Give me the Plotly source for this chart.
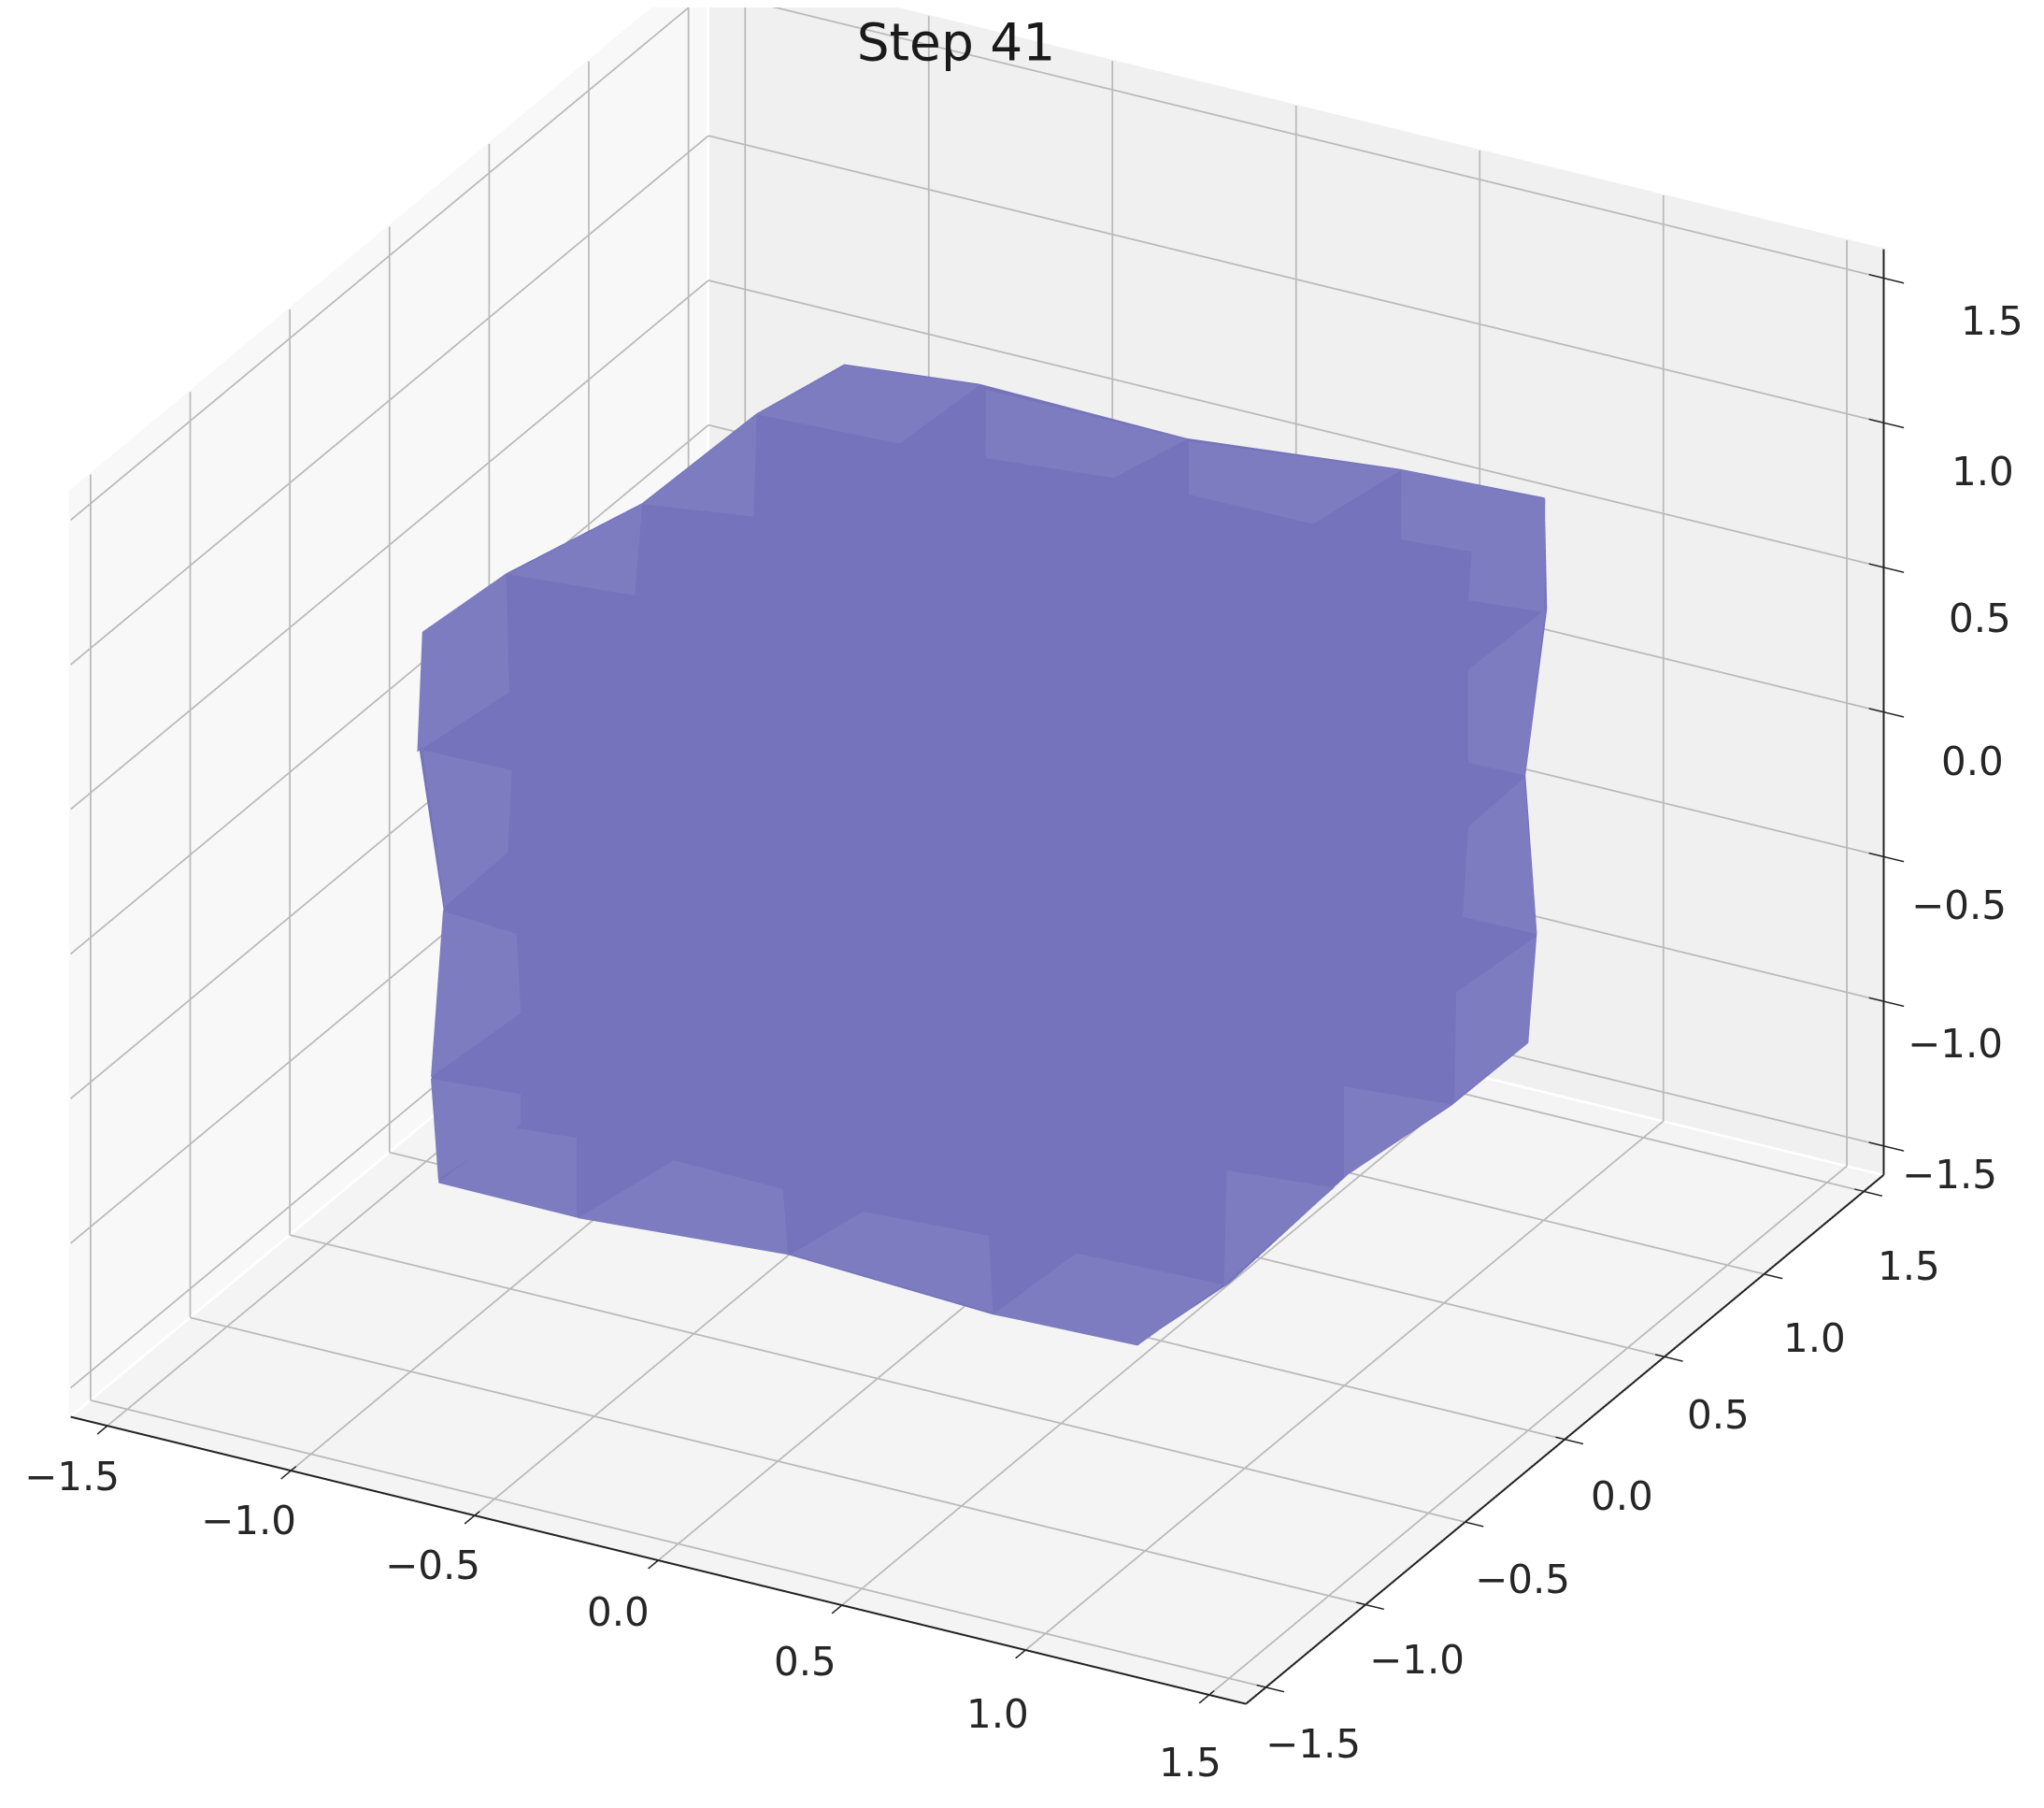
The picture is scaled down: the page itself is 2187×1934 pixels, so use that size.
import plotly.graph_objects as go

title_text = "Step 41"
edge = 1.6
tick_vals = [-1.5, -1.0, -0.5, 0.0, 0.5, 1.0, 1.5]
tick_text = ["\u22121.5", "\u22121.0", "\u22120.5", "0.0", "0.5", "1.0", "1.5"]

# outline nodes of the deformed cube
ring_x = [-.92,-.92,-.92,-.92,-.92,-.494,.071,.653,1.046,.92,.92,.92,.92,.92,.92,.92,.92,.544,-.015,-.587,-.967,-.987,-.954,-1.02]
ring_y = [-1.089,-.667,.014,.587,1.028,.92,.92,.92,.92,1.164,1.056,1.113,1.07,.685,.164,-.427,-.887,-.92,-.92,-.92,-.92,-.92,-.92,-.92]
ring_z = [1.032,.994,.847,.829,.748,.874,.861,.935,.958,.394,-.119,-.697,-1.052,-1.048,-.99,-1.026,-.974,-.971,-.937,-.987,-.984,-.632,-.032,.5]
near_corner = (1.0, -1.0, 1.0)
far_corner = (-1.0, 1.0, -1.0)

# lighter cells on the top face (z = 1.05): (x, y)
top_cells = [
    [(-.907,-1.113),(-.879,-.743),(-.571,-1.295),(-.613,-1.68)],
    [(-.873,-.745),(-.768,-.265),(-.552,-.701)],
    [(-.768,-.265),(-.755,.285),(-.502,-.196)],
    [(-.755,.285),(-.694,.615),(-.361,.677),(-.38,.312)],
    [(-.336,.663),(.213,.659),(.157,.396),(-.163,.342)],
    [(.222,.653),(.742,.761),(.693,.408),(.357,.403)],
    [(1.118,.79),(1.404,.259),(1.213,.229),(1.097,.459),(.917,.436),(.742,.761)],
]
# lighter cells on the right face (x = .95): (y, z)
right_cells = [
    [(1.099,.439),(1.0,-.077),(.714,.129),(.714,.452)],
    [(.995,-.084),(1.056,-.658),(.685,-.387),(.714,-.09)],
    [(1.052,-.665),(1.014,-1.01),(.643,-1.0),(.653,-.629)],
    [(.089,-.632),(.629,-1.003),(.089,-.945)],
    [(-.498,-.587),(.042,-.955),(-.512,-.974)],
]
# lighter cells on the front face (y = -.95): (x, z)
front_cells = [
    [(.559,-.948),(.785,-.666),(1.185,-.65),(.952,-.934)],
    [(.547,-.679),(.205,-.702),(.008,-.911),(.559,-.942)],
    [(-.013,-.692),(-.311,-.685),(-.572,-.966),(0,-.915)],
    [(-.575,-.689),(-.752,-.708),(-.952,-.96),(-.575,-.963)],
    [(-.727,-.585),(-.972,-.608),(-.952,-.95),(-.727,-.689)],
    [(-.739,-.034),(-.939,-.018),(-.972,-.602),(-.727,-.305)],
    [(-.995,.521),(-.752,.527),(-.762,.24),(-.934,-.002)],
]
face_top, face_right, face_front = 1.05, .95, -.95

BODY = "rgb(116,115,188)"
CELL = "rgb(125,124,192)"
GRID = "#bababa"
INK = "#222222"
FONT = "DejaVu Sans"
FLAT = dict(ambient=1, diffuse=0, specular=0, roughness=1, fresnel=0)

fig = go.Figure()

def flat_mesh(x, y, z, i, j, k, color):
    fig.add_trace(go.Mesh3d(x=x, y=y, z=z, i=i, j=j, k=k, color=color, opacity=1,
                            flatshading=True, lighting=FLAT, hoverinfo="skip"))

def segments(segs, color, width):
    x, y, z = [], [], []
    for a, b in segs:
        x += [a[0], b[0], None]; y += [a[1], b[1], None]; z += [a[2], b[2], None]
    fig.add_trace(go.Scatter3d(x=x, y=y, z=z, mode="lines", line=dict(color=color, width=width),
                               hoverinfo="skip", showlegend=False))

# panes
e = edge; p = edge + .005
flat_mesh([-p, -p, -p, -p], [-e, e, e, -e], [-e, -e, e, e], [0, 0], [1, 2], [2, 3], "#f8f8f8")
flat_mesh([-e, e, e, -e], [p, p, p, p], [-e, -e, e, e], [0, 0], [1, 2], [2, 3], "#f0f0f0")
flat_mesh([-e, e, e, -e], [-e, -e, e, e], [-p, -p, -p, -p], [0, 0], [1, 2], [2, 3], "#f4f4f4")

# grid
grid = []
for v in tick_vals:
    grid += [((v, -e, -e), (v, e, -e)), ((v, e, -e), (v, e, e))]      # x ticks
    grid += [((-e, v, -e), (e, v, -e)), ((-e, v, -e), (-e, v, e))]    # y ticks
    grid += [((-e, -e, v), (-e, e, v)), ((-e, e, v), (e, e, v))]      # z ticks
segments(grid, GRID, 3.5)

# body: two fans closing the ring on the near and far corners
n = len(ring_x)
bx = ring_x + [near_corner[0], far_corner[0]]
by = ring_y + [near_corner[1], far_corner[1]]
bz = ring_z + [near_corner[2], far_corner[2]]
bi, bj, bk = [], [], []
for a in range(n):
    for apex in (n, n + 1):
        bi.append(apex); bj.append(a); bk.append((a + 1) % n)
flat_mesh(bx, by, bz, bi, bj, bk, BODY)

# cells: fan triangulation
cx, cy, cz, ci, cj, ck = [], [], [], [], [], []
def add_cell(points):
    start = len(cx)
    for px, py, pz in points:
        cx.append(px); cy.append(py); cz.append(pz)
    for t in range(1, len(points) - 1):
        ci.append(start); cj.append(start + t); ck.append(start + t + 1)

for cell in top_cells:
    add_cell([(a, b, face_top) for a, b in cell])
for cell in right_cells:
    add_cell([(face_right, a, b) for a, b in cell])
for cell in front_cells:
    add_cell([(a, face_front, b) for a, b in cell])
flat_mesh(cx, cy, cz, ci, cj, ck, CELL)

# axis lines and ticks
lines = [((-e, -e, -e), (e, -e, -e)), ((e, -e, -e), (e, e, -e)), ((e, e, -e), (e, e, e))]
ticks = []
for v in tick_vals:
    ticks.append(((v, -e - .05, -e), (v, -e + .025, -e)))
    ticks.append(((e - .025, v, -e), (e + .05, v, -e)))
    ticks.append(((e - .04, e, v), (e + .055, e, v)))
segments(lines, INK, 4)
segments(ticks, INK, 3)

# label offsets in pixels, per tick
x_dx = [-38, -45, -45, -43, -39, -30, -20]
x_dy = [-54, -53, -53, -55, -60, -68, -72]
y_dx = [51, 55, 61, 61, 58, 54, 48]
y_dy = [-61, -59, -61, -61, -62, -69, -80]
z_dx = [71, 77, 81, 95, 103, 106, 116]
z_dy = [-31, -45, -52, -53, -55, -52, -46]

def labels(axis_name, dxs, dys):
    out = []
    for v, t, dx, dy in zip(tick_vals, tick_text, dxs, dys):
        pos = {"x": (v, -e, -e), "y": (e, v, -e), "z": (e, e, v)}[axis_name]
        out.append(dict(x=pos[0], y=pos[1], z=pos[2], text=t, showarrow=False, xshift=dx, yshift=dy,
                        font=dict(family=FONT, size=42, color="#262626")))
    return out

def hidden_axis():
    return dict(range=[-1.7, 1.7], showticklabels=False, title=dict(text=""), showgrid=False,
                zeroline=False, showbackground=False, showline=False, ticks="", showspikes=False,
                visible=False)

eye_dist = 2.5
box = 1.572
look_at = (0.0695, -0.00675, -0.0775)
view_dir = (0.426, -0.785, 0.45)
fig.update_layout(
    width=2187, height=1934, margin=dict(l=0, r=0, t=0, b=0),
    paper_bgcolor="white", showlegend=False,
    title=dict(text=title_text, x=1015/2187, xanchor="center", y=1-37/1934, yanchor="middle",
               font=dict(family=FONT, size=55, color="#1a1a1a")),
    scene=dict(
        domain=dict(x=[0, 1], y=[0, 1]),
        xaxis=hidden_axis(), yaxis=hidden_axis(), zaxis=hidden_axis(),
        aspectmode="manual", aspectratio=dict(x=box, y=box, z=0.775*box),
        camera=dict(eye=dict(x=look_at[0]+view_dir[0]*eye_dist, y=look_at[1]+view_dir[1]*eye_dist,
                             z=look_at[2]+view_dir[2]*eye_dist), up=dict(x=0, y=0, z=1),
                    center=dict(x=look_at[0], y=look_at[1], z=look_at[2]),
                    projection=dict(type="orthographic")),
        annotations=labels("x", x_dx, x_dy) + labels("y", y_dx, y_dy) + labels("z", z_dx, z_dy),
    ),
)
fig.write_html("out.html")
